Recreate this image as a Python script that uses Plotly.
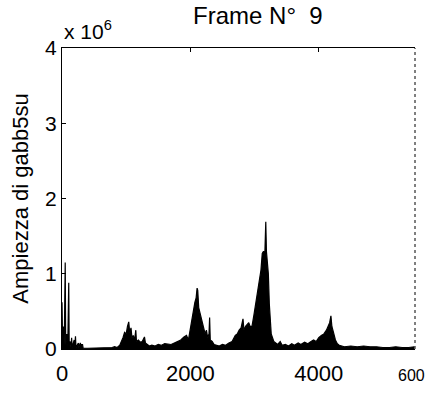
import plotly.graph_objects as go

# Frequency (Hz) and amplitude (x 10^6)
freq = [0, 10, 23, 35, 50, 58, 75, 90, 105, 112, 130, 140, 150, 158, 190, 198, 210, 218,
        255, 262, 285, 292, 320, 330, 400, 500, 600, 700, 780, 820, 860, 900, 930, 950,
        975, 1000, 1020, 1040, 1055, 1075, 1090, 1110, 1130, 1150, 1160, 1190, 1220, 1250,
        1285, 1300, 1330, 1360, 1400, 1450, 1500, 1550, 1600, 1650, 1700, 1750, 1800, 1850,
        1900, 1940, 1970, 1990, 2010, 2030, 2050, 2070, 2090, 2105, 2115, 2130, 2150, 2170,
        2190, 2210, 2230, 2250, 2270, 2290, 2300, 2310, 2340, 2370, 2400, 2450, 2500, 2550,
        2600, 2650, 2700, 2730, 2760, 2790, 2820, 2835, 2860, 2890, 2910, 2930, 2960, 2990,
        3010, 3040, 3060, 3080, 3100, 3120, 3140, 3160, 3175, 3185, 3200, 3215, 3230, 3245,
        3260, 3280, 3300, 3330, 3360, 3400, 3430, 3480, 3530, 3580, 3620, 3680, 3720, 3780,
        3830, 3880, 3920, 3960, 4000, 4040, 4080, 4120, 4150, 4170, 4190, 4205, 4230, 4260,
        4290, 4320, 4400, 4500, 4600, 4700, 4800, 4900, 5000, 5100, 5200, 5300, 5400, 5490]
amp = [0.62, 0.05, 0.30, 0.05, 1.15, 0.05, 0.20, 0.04, 0.88, 0.04, 0.10, 0.03, 0.15, 0.02, 0.12, 0.02, 0.17, 0.02,
       0.08, 0.02, 0.08, 0.06, 0.06, 0.01, 0.01, 0.01, 0.01, 0.01, 0.02, 0.03, 0.02, 0.05, 0.10, 0.15,
       0.22, 0.20, 0.30, 0.36, 0.22, 0.28, 0.15, 0.18, 0.12, 0.25, 0.10, 0.12, 0.09, 0.10,
       0.16, 0.08, 0.06, 0.04, 0.05, 0.04, 0.06, 0.05, 0.07, 0.06, 0.06, 0.08, 0.10, 0.12,
       0.16, 0.18, 0.12, 0.22, 0.30, 0.45, 0.50, 0.62, 0.68, 0.81, 0.78, 0.55, 0.48, 0.40,
       0.35, 0.28, 0.20, 0.25, 0.15, 0.20, 0.42, 0.12, 0.10, 0.06, 0.05, 0.04, 0.06, 0.05,
       0.08, 0.10, 0.18, 0.20, 0.25, 0.28, 0.40, 0.25, 0.30, 0.33, 0.35, 0.30, 0.30, 0.45,
       0.55, 0.70, 0.82, 0.95, 1.05, 1.27, 1.30, 1.25, 1.69, 1.30, 1.15, 1.00, 0.60, 0.30,
       0.20, 0.15, 0.10, 0.08, 0.06, 0.10, 0.05, 0.06, 0.04, 0.07, 0.05, 0.08, 0.06, 0.09,
       0.07, 0.10, 0.12, 0.10, 0.15, 0.18, 0.20, 0.25, 0.30, 0.35, 0.44, 0.30, 0.22, 0.12,
       0.07, 0.05, 0.03, 0.04, 0.03, 0.04, 0.03, 0.03, 0.02, 0.02, 0.03, 0.02, 0.02, 0.03]

x_ticks = [0, 2000, 4000]
y_ticks = [0, 1, 2, 3, 4]

FONT = "Liberation Sans, Arial, Helvetica, sans-serif"

fig = go.Figure()
fig.add_trace(go.Scatter(
    x=freq, y=amp, mode="lines", fill="tozeroy",
    line=dict(color="black", width=1.2), fillcolor="black",
    hoverinfo="skip", showlegend=False,
))

fig.update_layout(
    width=425, height=398,
    margin=dict(l=62, r=10, t=48, b=49),
    paper_bgcolor="white", plot_bgcolor="white",
    font=dict(family=FONT, color="black"),
    title=dict(text="Frame N°  9", x=0.555, xref="paper", xanchor="center",
               y=0.962, yref="container", yanchor="middle",
               font=dict(size=24, family=FONT, color="black")),
    showlegend=False,
)

fig.update_xaxes(
    range=[0, 5500], tickvals=x_ticks, ticktext=[str(v) for v in x_ticks],
    ticks="inside", ticklen=4, tickwidth=1, tickcolor="black",
    showline=True, linecolor="black", linewidth=1.3, mirror="ticks",
    showgrid=False, zeroline=False, ticklabelstandoff=4,
    tickfont=dict(size=22, family=FONT, color="black"),
)
fig.update_yaxes(
    range=[0, 4], tickvals=y_ticks, ticktext=[str(v) for v in y_ticks],
    ticks="inside", ticklen=4, tickwidth=1, tickcolor="black",
    showline=True, linecolor="black", linewidth=1.3, mirror=False,
    showgrid=False, zeroline=False,
    tickfont=dict(size=21, family=FONT, color="black"),
    title=dict(text="Ampiezza di gabb5su", font=dict(size=22, family=FONT, color="black"),
               standoff=10),
)

# right border (faint, dotted as in the scanned reference)
fig.add_shape(type="line", xref="paper", yref="paper", x0=1, x1=1, y0=0, y1=1,
              line=dict(color="black", width=1, dash="dot"))

# exponent label
fig.add_annotation(text="x 10<sup>6</sup>", xref="paper", yref="paper", x=0, y=1,
                   xanchor="left", yanchor="bottom", yshift=3, showarrow=False,
                   font=dict(size=21, family=FONT, color="black"))

# truncated 6000 tick label at the right edge
fig.add_annotation(text="600", xref="paper", yref="paper", x=1, y=0,
                   xanchor="center", yanchor="top", xshift=-4, yshift=-16, showarrow=False,
                   font=dict(size=16, family=FONT, color="black"))

fig.write_html("out.html")
